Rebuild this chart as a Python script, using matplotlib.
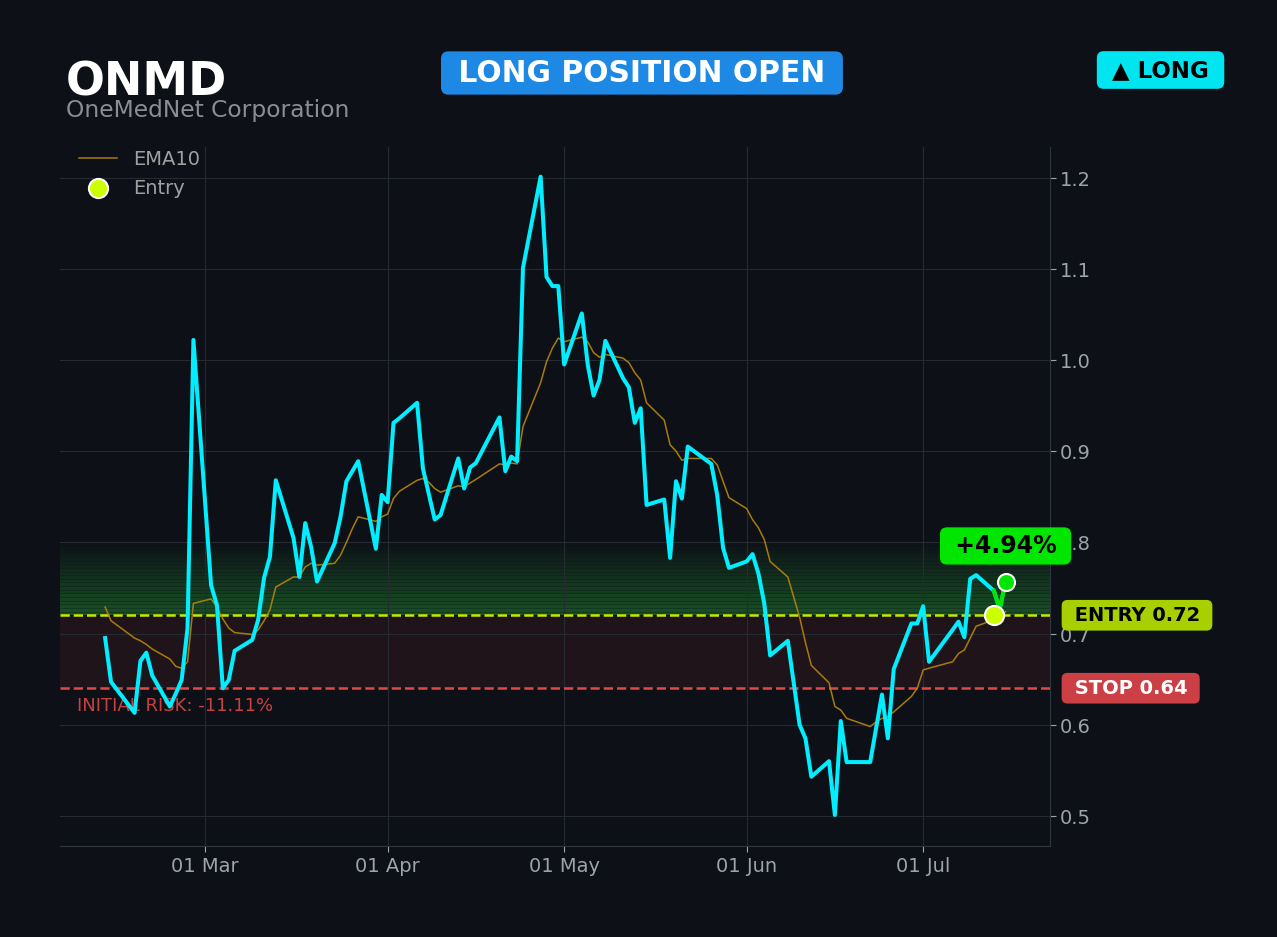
import numpy as np
import matplotlib
matplotlib.use('Agg')
import matplotlib.pyplot as plt
import matplotlib.dates as mdates
from matplotlib.transforms import blended_transform_factory

# chart data
ticker = 'ONMD'
company = 'OneMedNet Corporation'

dates = [
    '2025-02-12', '2025-02-13', '2025-02-17', '2025-02-18', '2025-02-19', '2025-02-20',
    '2025-02-23', '2025-02-24', '2025-02-25', '2025-02-26', '2025-02-27',
    '2025-03-02', '2025-03-03', '2025-03-04', '2025-03-05', '2025-03-06', '2025-03-09',
    '2025-03-10', '2025-03-11', '2025-03-12', '2025-03-13', '2025-03-16', '2025-03-17',
    '2025-03-18', '2025-03-19', '2025-03-20', '2025-03-23', '2025-03-24', '2025-03-25',
    '2025-03-26', '2025-03-27', '2025-03-30', '2025-03-31',
    '2025-04-01', '2025-04-02', '2025-04-03', '2025-04-06', '2025-04-07', '2025-04-08',
    '2025-04-09', '2025-04-10', '2025-04-13', '2025-04-14', '2025-04-15', '2025-04-16',
    '2025-04-20', '2025-04-21', '2025-04-22', '2025-04-23', '2025-04-24', '2025-04-27',
    '2025-04-28', '2025-04-29', '2025-04-30',
    '2025-05-01', '2025-05-04', '2025-05-05', '2025-05-06', '2025-05-07', '2025-05-08',
    '2025-05-11', '2025-05-12', '2025-05-13', '2025-05-14', '2025-05-15', '2025-05-18',
    '2025-05-19', '2025-05-20', '2025-05-21', '2025-05-22', '2025-05-26', '2025-05-27',
    '2025-05-28', '2025-05-29',
    '2025-06-01', '2025-06-02', '2025-06-03', '2025-06-04', '2025-06-05', '2025-06-08',
    '2025-06-09', '2025-06-10', '2025-06-11', '2025-06-12', '2025-06-15', '2025-06-16',
    '2025-06-17', '2025-06-18', '2025-06-22', '2025-06-23', '2025-06-24', '2025-06-25',
    '2025-06-26', '2025-06-29', '2025-06-30',
    '2025-07-01', '2025-07-02', '2025-07-06', '2025-07-07', '2025-07-08', '2025-07-09',
    '2025-07-10', '2025-07-13', '2025-07-14', '2025-07-15',
]

close = [
    0.695, 0.647, 0.613, 0.670, 0.679, 0.654,
    0.620, 0.634, 0.649, 0.706, 1.022,
    0.753, 0.731, 0.640, 0.649, 0.681, 0.693,
    0.715, 0.761, 0.784, 0.868, 0.805, 0.762,
    0.821, 0.795, 0.757, 0.799, 0.828, 0.867,
    0.878, 0.889, 0.793, 0.852,
    0.844, 0.931, 0.936, 0.953, 0.881, 0.853,
    0.825, 0.830, 0.892, 0.859, 0.882, 0.887,
    0.937, 0.878, 0.894, 0.889, 1.101, 1.201,
    1.091, 1.081, 1.081,
    0.995, 1.051, 0.995, 0.961, 0.978, 1.021,
    0.980, 0.970, 0.931, 0.947, 0.841, 0.847,
    0.783, 0.867, 0.848, 0.905, 0.886, 0.852,
    0.794, 0.772,
    0.779, 0.787, 0.766, 0.733, 0.676, 0.692,
    0.646, 0.600, 0.585, 0.543, 0.560, 0.501,
    0.604, 0.559, 0.559, 0.596, 0.633, 0.585,
    0.661, 0.711, 0.711,
    0.730, 0.669, 0.704, 0.713, 0.696, 0.760,
    0.764, 0.747, 0.727, 0.756,
]

ema10 = [
    0.729, 0.714, 0.695, 0.692, 0.688, 0.683,
    0.672, 0.664, 0.662, 0.669, 0.733,
    0.738, 0.729, 0.716, 0.706, 0.701, 0.699,
    0.704, 0.714, 0.726, 0.751, 0.762, 0.762,
    0.773, 0.777, 0.775, 0.777, 0.786, 0.800,
    0.815, 0.828, 0.823, 0.828,
    0.831, 0.848, 0.856, 0.868, 0.870, 0.866,
    0.859, 0.855, 0.862, 0.861, 0.865, 0.869,
    0.886, 0.885, 0.887, 0.886, 0.927, 0.975,
    0.998, 1.013, 1.024,
    1.020, 1.025, 1.020, 1.008, 1.003, 1.006,
    1.002, 0.997, 0.986, 0.978, 0.953, 0.934,
    0.907, 0.900, 0.890, 0.892, 0.892, 0.885,
    0.867, 0.849,
    0.837, 0.825, 0.816, 0.803, 0.779, 0.762,
    0.740, 0.718, 0.690, 0.665, 0.646, 0.620,
    0.616, 0.607, 0.598, 0.603, 0.607, 0.609,
    0.614, 0.631, 0.640,
    0.660, 0.662, 0.669, 0.678, 0.682, 0.695,
    0.708, 0.715, 0.718, 0.724,
]

entry_date = '2025-07-13'
entry_price = 0.72
stop_price = 0.64
zone_top = 0.80
y_ticks = [0.5, 0.6, 0.7, 0.8, 0.9, 1.0, 1.1, 1.2]
pnl_label = '+4.94%'
risk_label = 'INITIAL RISK: -11.11%'

BG = '#0d1117'
CYAN = '#00eeff'
GREEN = '#00e600'
LIME = '#c6e800'
RED = '#e04848'

fig = plt.figure(figsize=(12.77, 9.375), dpi=100, facecolor=BG)
ax = fig.add_axes([0.047, 0.0971, 0.775, 0.746])
ax.set_facecolor(BG)

x = np.array(dates, dtype='datetime64[D]')
ix = dates.index(entry_date)

# profit zone gradient (banded) and risk zone
n_bands = 20
edges = np.linspace(entry_price, zone_top, n_bands + 1)
for i in range(n_bands):
    ax.axhspan(edges[i], edges[i + 1], color='#2ecc40', alpha=0.34 * (1 - i / n_bands), lw=0, zorder=1)
for e in edges[1:]:
    ax.axhline(e, color=BG, lw=0.7, alpha=0.35, zorder=1)
ax.axhspan(stop_price, entry_price, color='#ff4040', alpha=0.08, lw=0, zorder=1)

ax.axhline(entry_price, color=LIME, ls='--', lw=1.8, zorder=3)
ax.axhline(stop_price, color=RED, ls='--', lw=1.8, zorder=3)

ax.plot(x, ema10, color='#b8860b', lw=1.1, alpha=0.9, label='EMA10', zorder=3)
ax.plot(x, close, color=CYAN, lw=2.9, zorder=4)
ax.plot(x[ix:], close[ix:], color=GREEN, lw=2.9, zorder=5)

ax.scatter([x[ix]], [entry_price], s=190, color='#ccff00', edgecolor='white', lw=1.5, zorder=6, label='Entry')
ax.scatter([x[-1]], [close[-1]], s=150, color=GREEN, edgecolor='white', lw=1.5, zorder=6)

ax.set_xlim(np.datetime64('2025-02-04T08'), np.datetime64('2025-07-22T12'))
ax.set_ylim(0.467, 1.234)
ax.set_yticks(y_ticks)
ax.yaxis.tick_right()
ax.xaxis.set_major_locator(mdates.MonthLocator())
ax.xaxis.set_major_formatter(mdates.DateFormatter('%d %b'))
ax.tick_params(colors='#9da3ab', labelsize=14, length=4)
ax.grid(color='#262a31', lw=0.8, zorder=0)
for side in ['left', 'top']:
    ax.spines[side].set_visible(False)
for side in ['right', 'bottom']:
    ax.spines[side].set_color('#30363d')

ax.legend(loc='upper left', bbox_to_anchor=(0.001, 1.021), frameon=False, fontsize=14, labelcolor='#a0a0a0')

tr = blended_transform_factory(ax.transAxes, ax.transData)
ax.text(1.018, entry_price, ' ENTRY 0.72 ', transform=tr, ha='left', va='center', fontsize=14,
        fontweight='bold', color='black', clip_on=False,
        bbox=dict(boxstyle='round,pad=0.3,rounding_size=0.3', fc='#a8cf00', ec='none'))
ax.text(1.018, stop_price, ' STOP 0.64 ', transform=tr, ha='left', va='center', fontsize=14,
        fontweight='bold', color='white', clip_on=False,
        bbox=dict(boxstyle='round,pad=0.3,rounding_size=0.3', fc='#cc3f44', ec='none'))
ax.text(0.017, 0.6215, risk_label, transform=tr, ha='left', va='center', fontsize=13, color='#c94040')
ax.text(x[-1], close[-1] + 0.04, ' ' + pnl_label + ' ', ha='center', va='center', fontsize=17,
        fontweight='bold', color='black', zorder=7,
        bbox=dict(boxstyle='round,pad=0.28,rounding_size=0.3', fc=GREEN, ec='none'))

fig.text(0.0517, 0.8986, ticker, fontsize=33, fontweight='bold', color='white', va='baseline')
fig.text(0.0517, 0.8751, company, fontsize=16.8, color='#8a8d91', va='baseline')
fig.text(0.5027, 0.9216, ' LONG POSITION OPEN ', fontsize=21.4, fontweight='bold', color='white',
         ha='center', va='center',
         bbox=dict(boxstyle='round,pad=0.24,rounding_size=0.25', fc='#1e88e5', ec='none'))
fig.text(0.9088, 0.9248, ' \u25b2 LONG ', fontsize=16.5, fontweight='bold', color='black',
         ha='center', va='center',
         bbox=dict(boxstyle='round,pad=0.32,rounding_size=0.3', fc='#00e5f0', ec='none'))

fig.savefig('out.png', dpi=100, facecolor=BG)
